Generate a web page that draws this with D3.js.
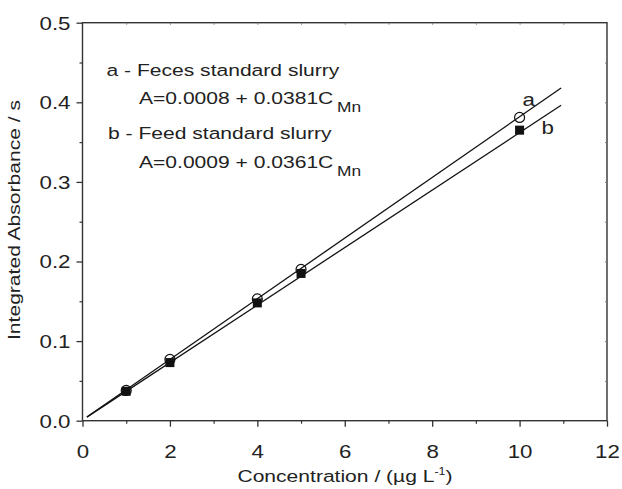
<!DOCTYPE html>
<html><head><meta charset="utf-8">
<script src="https://cdn.jsdelivr.net/npm/d3@7"></script>
<style>body{margin:0;background:#fff}svg{display:block;font-family:"Liberation Sans",Arial,sans-serif}</style>
</head><body>
<svg id="c" width="622" height="489"></svg>
<script>
const concentrations = [1, 2, 4, 5, 10];
const seriesA = [0.038, 0.077, 0.153, 0.190, 0.381];
const seriesB = [0.037, 0.073, 0.148, 0.185, 0.365];
const fitA = {intercept: 0.0008, slope: 0.0381};
const fitB = {intercept: 0.0009, slope: 0.0361};
const fitRange = [0.1, 10.95];
const xTicks = [0, 2, 4, 6, 8, 10, 12];
const yTicks = [0.0, 0.1, 0.2, 0.3, 0.4, 0.5];

const svg = d3.select("#c");
const L = 82.5, R = 607, T = 22.7, B = 420.7;
const x = d3.scaleLinear().domain([0, 12]).range([L, R]);
const y = d3.scaleLinear().domain([0, 0.5]).range([B, T]);
const axisColor = "#333";
const TXT = "#222";
const SX = 1.24; // horizontal glyph stretch of the reference font

function stext(parent, tx, ty, size, anchor, extra) {
  return parent.append("text")
    .attr("transform", `translate(${tx},${ty})${extra || ""} scale(${SX},1)`)
    .attr("font-size", size).attr("fill", TXT).attr("text-anchor", anchor || "start");
}

// frame
svg.append("rect").attr("x", L).attr("y", T).attr("width", R - L).attr("height", B - T)
  .attr("fill", "none").attr("stroke", axisColor).attr("stroke-width", 1.4);

// bottom axis
const gx = svg.append("g").attr("transform", `translate(0,${B})`)
  .call(d3.axisBottom(x).tickValues(xTicks).tickSize(6).tickFormat(d3.format("d")));
gx.select(".domain").remove();
gx.selectAll("line").attr("stroke", axisColor).attr("stroke-width", 1.3);
gx.selectAll("text").attr("y", null).attr("dy", null).attr("x", null)
  .attr("transform", `translate(0,37.5) scale(${SX},1)`)
  .attr("font-size", 18).attr("fill", TXT);
svg.append("g").attr("transform", `translate(0,${B})`)
  .call(d3.axisBottom(x).tickValues(d3.range(1, 12, 2)).tickSize(3).tickFormat(""))
  .call(g => g.select(".domain").remove())
  .selectAll("line").attr("stroke", axisColor).attr("stroke-width", 1.2);

// left axis
const gy = svg.append("g").attr("transform", `translate(${L},0)`)
  .call(d3.axisLeft(y).tickValues(yTicks).tickSize(6).tickFormat(d3.format(".1f")));
gy.select(".domain").remove();
gy.selectAll("line").attr("stroke", axisColor).attr("stroke-width", 1.3);
gy.selectAll("text").attr("x", null).attr("dy", "0.36em")
  .attr("transform", `translate(-12,0) scale(${SX},1)`)
  .attr("font-size", 18).attr("fill", TXT);
svg.append("g").attr("transform", `translate(${L},0)`)
  .call(d3.axisLeft(y).tickValues(d3.range(0.05, 0.5, 0.1)).tickSize(3).tickFormat(""))
  .call(g => g.select(".domain").remove())
  .selectAll("line").attr("stroke", axisColor).attr("stroke-width", 1.2);

// faint inner ticks on top and right
svg.append("g").attr("transform", `translate(0,${T})`)
  .call(d3.axisBottom(x).tickValues(d3.range(1, 12, 1)).tickSize(2).tickFormat(""))
  .call(g => g.select(".domain").remove())
  .selectAll("line").attr("stroke", "#777").attr("stroke-width", 1);
svg.append("g").attr("transform", `translate(${R},0)`)
  .call(d3.axisLeft(y).tickValues(d3.range(0.05, 0.5, 0.05)).tickSize(2).tickFormat(""))
  .call(g => g.select(".domain").remove())
  .selectAll("line").attr("stroke", "#777").attr("stroke-width", 1);

// fit lines
const line = d3.line().x(d => x(d[0])).y(d => y(d[1]));
[fitA, fitB].forEach(f => {
  svg.append("path").datum(fitRange.map(c => [c, f.intercept + f.slope * c]))
    .attr("d", line).attr("fill", "none").attr("stroke", "#111").attr("stroke-width", 1.3);
});

// markers b (filled squares)
svg.append("g").selectAll("rect").data(concentrations.map((c, i) => [c, seriesB[i]])).join("rect")
  .attr("x", d => x(d[0]) - 4.5).attr("y", d => y(d[1]) - 4.5)
  .attr("width", 9).attr("height", 9).attr("fill", "#111");
// markers a (open circles)
svg.append("g").selectAll("circle").data(concentrations.map((c, i) => [c, seriesA[i]])).join("circle")
  .attr("cx", d => x(d[0])).attr("cy", d => y(d[1])).attr("r", 5)
  .attr("fill", "none").attr("stroke", "#111").attr("stroke-width", 1.2);

// line labels
stext(svg, 522.5, 106, 18).text("a");
stext(svg, 541.5, 133.5, 18).text("b");

// legend text
const tf = 17;
stext(svg, 106.5, 76, tf).text("a - Feces standard slurry");
const e1 = stext(svg, 139, 104, tf);
e1.append("tspan").text("A=0.0008 + 0.0381C");
e1.append("tspan").attr("dy", 7.5).attr("dx", 3).attr("font-size", 14).text("Mn");
stext(svg, 108, 139, tf).text("b - Feed standard slurry");
const e2 = stext(svg, 139, 168, tf);
e2.append("tspan").text("A=0.0009 + 0.0361C");
e2.append("tspan").attr("dy", 7.5).attr("dx", 3).attr("font-size", 14).text("Mn");

// axis titles
const xt = stext(svg, 345, 482, tf, "middle");
xt.append("tspan").text("Concentration / (µg L");
xt.append("tspan").attr("dy", -7).attr("font-size", 10).text("-1");
xt.append("tspan").attr("dy", 7).text(")");
stext(svg, 19.5, 220, tf, "middle", " rotate(-90)").text("Integrated Absorbance / s");
</script>
</body></html>
